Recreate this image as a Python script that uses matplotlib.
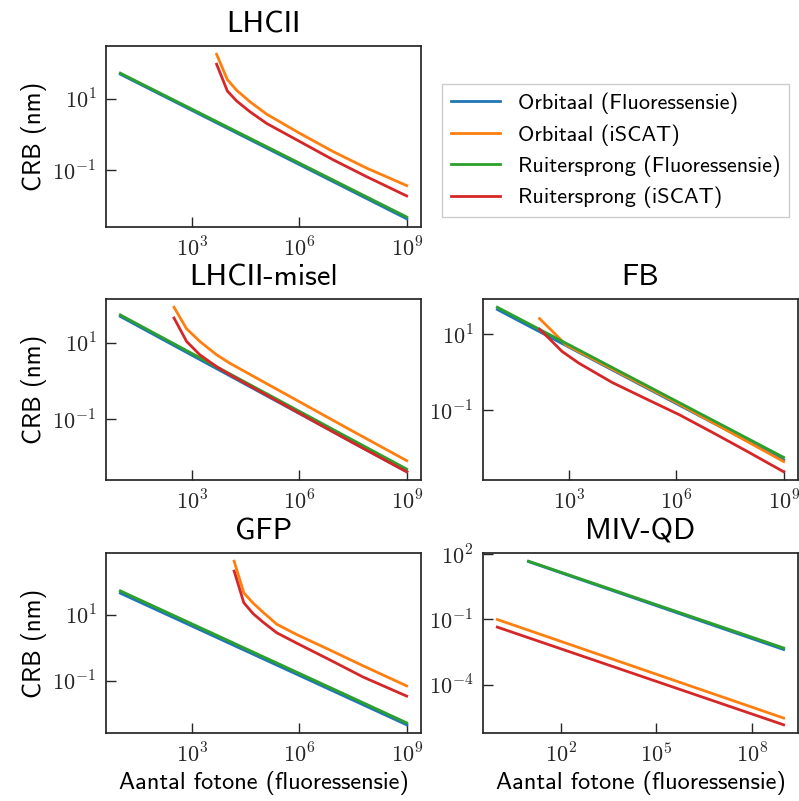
import numpy as np
import matplotlib.pyplot as plt
from matplotlib.ticker import FuncFormatter, NullLocator

# ============================================================ #
' Data (log10 values read off the chart) '

labels = ['Orbitaal (Fluoressensie)', 'Orbitaal (iSCAT)',
          'Ruitersprong (Fluoressensie)', 'Ruitersprong (iSCAT)']
colors = ['#1f77b4', '#ff7f0e', '#2ca02c', '#d62728']
titles = ['LHCII', 'LHCII-misel', 'FB', 'GFP', 'MIV-QD']

fl_logx = [1.0, 9.0]

# LHCII
lhcii_orb_fl = [1.69, -2.36]
lhcii_rs_fl = [1.72, -2.31]
lhcii_isc_logx = [3.69, 3.99, 4.25, 4.62, 5.09, 6.02, 6.95, 7.88, 9.0]
lhcii_orb_isc = [2.25, 1.54, 1.24, 0.92, 0.57, 0.03, -0.48, -0.94, -1.43]
lhcii_rs_isc = [1.97, 1.22, 0.94, 0.64, 0.31, -0.20, -0.71, -1.18, -1.72]

# LHCII-misel
misel_orb_fl = [1.68, -2.37]
misel_rs_fl = [1.72, -2.30]
misel_isc_logx = [2.50, 2.85, 3.22, 3.69, 4.06, 4.62, 5.55, 6.48, 7.41, 9.0]
misel_orb_isc = [1.92, 1.36, 1.03, 0.68, 0.46, 0.17, -0.31, -0.79, -1.27, -2.08]
misel_rs_isc = [1.64, 1.03, 0.68, 0.37, 0.16, -0.13, -0.61, -1.09, -1.57, -2.37]

# FB
fb_orb_fl = [1.66, -2.32]
fb_rs_fl = [1.72, -2.25]
fb_orb_isc_logx = [2.18, 2.49, 2.91, 4.0, 6.08, 9.0]
fb_orb_isc = [1.42, 1.13, 0.73, 0.19, -0.84, -2.36]
fb_rs_isc_logx = [2.18, 2.44, 2.81, 3.28, 4.21, 5.15, 6.08, 7.01, 7.94, 9.0]
fb_rs_isc = [1.14, 0.90, 0.55, 0.24, -0.27, -0.70, -1.12, -1.59, -2.07, -2.63]

# GFP
gfp_orb_fl = [1.66, -2.33]
gfp_rs_fl = [1.73, -2.27]
gfp_isc_logx = [4.18, 4.45, 4.71, 4.99, 5.37, 5.92, 6.85, 7.78, 9.0]
gfp_orb_isc = [2.63, 1.67, 1.36, 1.08, 0.72, 0.41, -0.06, -0.54, -1.15]
gfp_rs_isc = [2.33, 1.37, 1.04, 0.78, 0.46, 0.15, -0.36, -0.88, -1.46]

# MIV-QD
miv_fl_logx = [0.98, 9.0]
miv_orb_fl = [1.66, -2.38]
miv_rs_fl = [1.68, -2.31]
miv_isc_logx = [0.0, 9.0]
miv_orb_isc = [-1.00, -5.53]
miv_rs_isc = [-1.35, -5.84]

xticks = [[3, 6, 9]] * 4 + [[2, 5, 8]]
yticks = [[1, -1]] * 4 + [[2, -1, -4]]

# ============================================================ #
' Style '

plt.rcParams['font.family'] = 'cmss10'
plt.rcParams['mathtext.fontset'] = 'cm'
plt.rcParams['axes.unicode_minus'] = False
plt.rcParams['axes.edgecolor'] = '.15'
plt.rcParams['axes.linewidth'] = 1.25
plt.rcParams['xtick.direction'] = 'in'
plt.rcParams['ytick.direction'] = 'in'
plt.rcParams['xtick.color'] = '.15'
plt.rcParams['ytick.color'] = '.15'

fig = plt.figure(figsize=(7.99, 8.01), dpi=100)

W, H = 799.0, 801.0
def px_axes(left, top, right, bottom):
  return fig.add_axes([left / W, 1 - bottom / H, (right - left) / W, (bottom - top) / H])

ax_lhcii = px_axes(106, 46, 421, 227)
ax_leg = px_axes(483, 46, 798, 227)
ax_misel = px_axes(106, 299, 421, 480)
ax_fb = px_axes(483, 299, 798, 480)
ax_gfp = px_axes(106, 553, 421, 733)
ax_miv = px_axes(483, 553, 798, 733)

panels = [
  (ax_lhcii, fl_logx, lhcii_orb_fl, lhcii_rs_fl, lhcii_isc_logx, lhcii_orb_isc, lhcii_isc_logx, lhcii_rs_isc),
  (ax_misel, fl_logx, misel_orb_fl, misel_rs_fl, misel_isc_logx, misel_orb_isc, misel_isc_logx, misel_rs_isc),
  (ax_fb, fl_logx, fb_orb_fl, fb_rs_fl, fb_orb_isc_logx, fb_orb_isc, fb_rs_isc_logx, fb_rs_isc),
  (ax_gfp, fl_logx, gfp_orb_fl, gfp_rs_fl, gfp_isc_logx, gfp_orb_isc, gfp_isc_logx, gfp_rs_isc),
  (ax_miv, miv_fl_logx, miv_orb_fl, miv_rs_fl, miv_isc_logx, miv_orb_isc, miv_isc_logx, miv_rs_isc),
]

pow10 = lambda a: np.power(10.0, np.asarray(a))
fmt = FuncFormatter(lambda v, p: r'$10^{%d}$' % round(np.log10(v)))

for i, (ax, flx, orb_fl, rs_fl, ox, orb_isc, rx, rs_isc) in enumerate(panels):
  ax.plot(pow10(flx), pow10(orb_fl), color=colors[0], lw=2, label=labels[0])
  ax.plot(pow10(ox), pow10(orb_isc), color=colors[1], lw=2, label=labels[1])
  ax.plot(pow10(flx), pow10(rs_fl), color=colors[2], lw=2, label=labels[2])
  ax.plot(pow10(rx), pow10(rs_isc), color=colors[3], lw=2, label=labels[3])
  ax.set_xscale('log')
  ax.set_yscale('log')
  ax.set_xticks(pow10(xticks[i]))
  ax.set_yticks(pow10(yticks[i]))
  ax.xaxis.set_major_formatter(fmt)
  ax.yaxis.set_major_formatter(fmt)
  ax.xaxis.set_minor_locator(NullLocator())
  ax.yaxis.set_minor_locator(NullLocator())
  ax.tick_params(length=7.5, width=1, labelsize=16, pad=7)
  ax.set_title(titles[i], fontsize=22, pad=10)
  if ax in (ax_lhcii, ax_misel, ax_gfp):
    ax.set_ylabel('CRB (nm)', fontsize=18)
  if ax in (ax_gfp, ax_miv):
    ax.set_xlabel('Aantal fotone (fluoressensie)', fontsize=17.5, labelpad=3)

# ============================================================ #
' Legend '

ax_leg.axis('off')
handles, labs = ax_lhcii.get_legend_handles_labels()
fig.legend(handles, labs, loc='center', bbox_to_anchor=(615.5 / W, 1 - 150.5 / H),
           fontsize=16, fancybox=False, edgecolor='0.8', framealpha=1,
           handlelength=2.2, labelspacing=0.45)

fig.savefig('out.png', dpi=100)
